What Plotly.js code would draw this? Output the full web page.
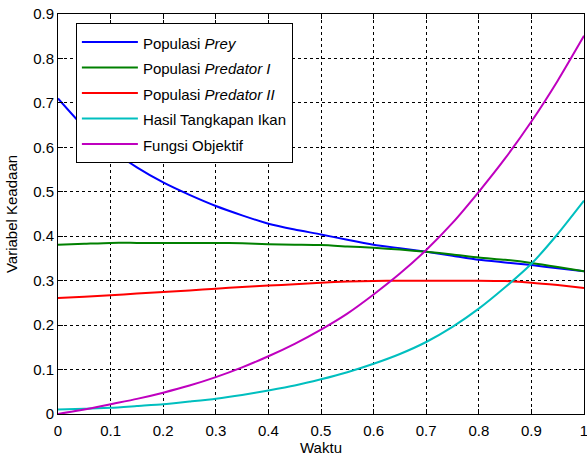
<!DOCTYPE html>
<html>
<head>
<meta charset="utf-8">
<script src="https://cdn.plot.ly/plotly-3.0.1.min.js"></script>
<style>html,body{margin:0;padding:0;background:#fff;}#chart{width:587px;height:459px;}</style>
</head>
<body>
<div id="chart"></div>
<script>
const waktu = [0,0.05,0.1,0.15,0.2,0.25,0.3,0.35,0.4,0.45,0.5,0.55,0.6,0.65,0.7,0.75,0.8,0.85,0.9,0.95,1.0];
const prey = [0.71,0.645,0.595,0.555,0.521,0.493,0.468,0.447,0.428,0.415,0.404,0.392,0.381,0.373,0.365,0.356,0.347,0.341,0.335,0.328,0.321];
const predator1 = [0.381,0.383,0.385,0.385,0.385,0.385,0.385,0.384,0.382,0.381,0.38,0.377,0.374,0.37,0.365,0.359,0.352,0.347,0.34,0.331,0.321];
const predator2 = [0.261,0.264,0.267,0.271,0.2745,0.278,0.282,0.286,0.289,0.292,0.2955,0.298,0.299,0.3,0.3,0.3,0.3,0.299,0.2955,0.29,0.2835];
const tangkapan = [0.01,0.012,0.014,0.018,0.022,0.028,0.0345,0.043,0.053,0.064,0.078,0.094,0.113,0.135,0.162,0.196,0.237,0.285,0.338,0.405,0.48];
const objektif = [0,0.01,0.022,0.034,0.048,0.064,0.083,0.105,0.13,0.158,0.19,0.226,0.269,0.316,0.369,0.43,0.5,0.575,0.658,0.75,0.851];
const names = ['Populasi <i>Prey</i>','Populasi <i>Predator I</i>','Populasi <i>Predator II</i>','Hasil Tangkapan Ikan','Fungsi Objektif'];
const xTicks = [0,0.1,0.2,0.3,0.4,0.5,0.6,0.7,0.8,0.9,1];
const xTickText = ['0','0.1','0.2','0.3','0.4','0.5','0.6','0.7','0.8','0.9','1'];
const yTicks = [0,0.1,0.2,0.3,0.4,0.5,0.6,0.7,0.8,0.9];
const yTickText = ['0','0.1','0.2','0.3','0.4','0.5','0.6','0.7','0.8','0.9'];
const colors = ['#0000ff','#008000','#ff0000','#00bfbf','#bf00bf'];
const series = [prey,predator1,predator2,tangkapan,objektif];

const traces = series.map((s,i)=>({
  x: waktu, y: s, type:'scatter', mode:'lines',
  name: '<span style="font-size:15px">' + names[i] + '</span>',
  line:{color:colors[i], width:2, shape:'spline', smoothing:0.6}
}));

const FONT = 'Liberation Sans, Arial, sans-serif';
const axisCommon = {
  showline:true, linecolor:'#000', linewidth:1, mirror:'ticks',
  ticks:'inside', ticklen:5, tickcolor:'#000',
  showgrid:true, gridcolor:'#000', gridwidth:1, griddash:'3px,3px',
  zeroline:false, ticklabeloverflow:'allow',
  tickfont:{family:FONT, size:15, color:'#000'}
};

const layout = {
  width:587, height:459,
  margin:{l:58, r:3, t:14, b:45},
  paper_bgcolor:'#fff', plot_bgcolor:'#fff',
  font:{family:FONT, size:15, color:'#000'},
  xaxis: Object.assign({}, axisCommon, {range:[0,1], tickvals:xTicks, ticktext:xTickText, ticklabelstandoff:3,
    title:{text:'Waktu', standoff:3, font:{size:15}}}),
  yaxis: Object.assign({}, axisCommon, {range:[0,0.9], tickvals:yTicks, ticktext:yTickText,
    title:{text:'Variabel Keadaan', standoff:11, font:{size:15}}}),
  legend:{x:0.034, y:0.977, xanchor:'left', yanchor:'top', bgcolor:'#fff', bordercolor:'#000', borderwidth:1,
    font:{size:17.3, family:FONT}, itemwidth:56, tracegroupgap:0,
    entrywidth:235, entrywidthmode:'pixels'},
  showlegend:true
};
Plotly.newPlot('chart', traces, layout, {displayModeBar:false, staticPlot:true});
</script>
</body>
</html>
